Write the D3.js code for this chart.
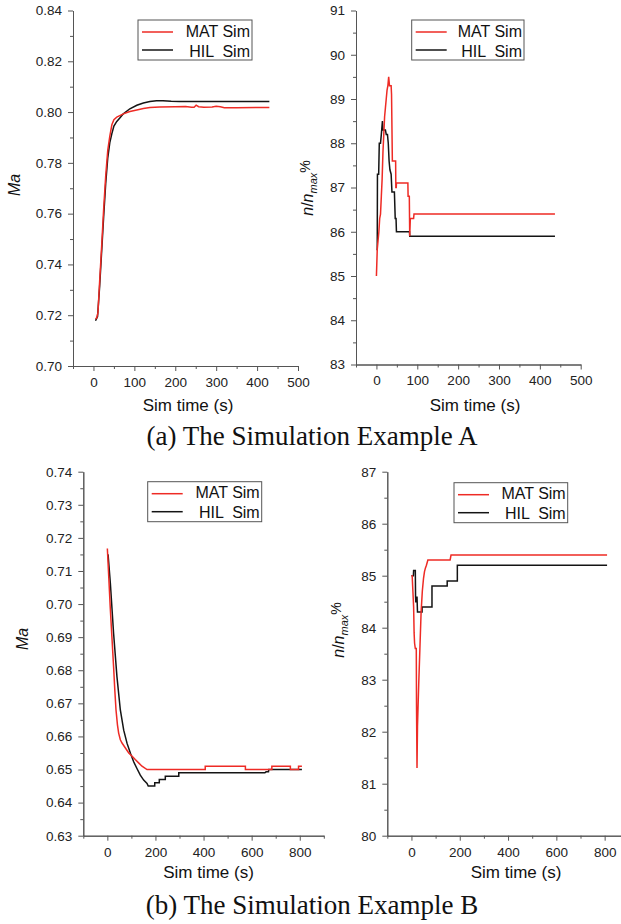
<!DOCTYPE html>
<html>
<head>
<meta charset="utf-8">
<script src="https://cdn.jsdelivr.net/npm/d3@7/dist/d3.min.js"></script>
<style>
  body { margin: 0; background: #fff; }
  svg { display: block; }
  .tick text { font-family: "Liberation Sans", Arial, sans-serif; font-size: 13.5px; fill: #222; }
  .axis path, .axis line { stroke: #555; }
</style>
</head>
<body>
<svg id="chart" width="621" height="924"></svg>
<script>
// series names
const seriesNames = ["MAT Sim", "HIL  Sim"];

// example A, Mach number [time, Ma]
const maA_mat = [[5,0.7185],[8,0.719],[11,0.721],[15,0.733],[20,0.747],[25,0.762],[30,0.775],[35,0.785],
  [40,0.7905],[45,0.795],[50,0.797],[57,0.798],[73,0.7993],[89,0.8002],[106,0.8008],[122,0.8014],
  [138,0.8018],[162,0.802],[200,0.8021],[225,0.8022],[240,0.8019],[246,0.8019],[251,0.8027],[257,0.8021],
  [270,0.8019],[290,0.802],[300,0.8023],[310,0.8021],[320,0.8017],[350,0.8017],[430,0.8018]];
const maA_hil = [[5,0.7178],[10,0.7195],[15,0.731],[20,0.745],[25,0.759],[30,0.772],[35,0.782],[40,0.788],
  [45,0.7915],[50,0.7945],[57,0.7963],[65,0.7978],[73,0.7993],[89,0.8013],[106,0.8027],[122,0.8036],
  [138,0.8042],[154,0.8045],[170,0.8045],[190,0.8043],[210,0.8042],[430,0.8042]];

// example A, speed n/nmax % [time, value]
const nA_mat = [[0,85.0],[2,85.6],[4,85.8],[6,86.0],[8,86.3],[10,86.4],[12,86.8],[14,87.2],[16,87.8],
  [18,88.2],[20,88.6],[22,88.8],[24,89.0],[26,89.2],[28,89.3],[30,89.5],[32,89.3],[36,89.3],[37,89.1],
  [39,87.6],[47,87.6],[47.5,87.0],[48.5,87.0],[49,87.1],[77,87.1],[77.5,86.8],[80.5,86.8],[81.5,85.9],
  [83,86.3],[91,86.3],[92,86.4],[437,86.4]];
const nA_hil = [[0,85.6],[2,85.6],[2.5,87.3],[5.5,87.3],[7,88.0],[10,88.0],[12,88.2],[14.7,88.5],[16,88.3],
  [22,88.3],[24,88.2],[27,88.2],[29,88.0],[31,87.6],[33,87.4],[36,87.3],[38,86.9],[44,86.9],[46,86.3],
  [48,86.3],[49,86.0],[81,86.0],[81.5,85.9],[437,85.9]];

// example B, Mach number
const maB_mat = [[0,0.7168],[6,0.708],[12,0.699],[19,0.690],[26,0.681],[31,0.674],[36,0.668],[42,0.6635],
  [47,0.661],[54,0.659],[61,0.658],[75,0.6565],[89,0.655],[103,0.654],[116,0.653],[130,0.652],[144,0.651],
  [165,0.650],[407,0.650],[407,0.651],[574,0.651],[574,0.650],[684,0.650],[684,0.651],[761,0.651],
  [761,0.650],[795,0.650],[795,0.651],[809,0.651]];
const maB_hil = [[3,0.715],[12.5,0.7063],[26,0.6911],[40,0.678],[54,0.668],[68,0.6619],[82,0.6579],
  [96,0.6549],[109,0.6524],[123,0.6503],[137,0.6483],[151,0.6468],[165,0.6458],[170,0.645],[197,0.645],
  [197,0.646],[216,0.646],[216,0.647],[241,0.647],[241,0.648],[297,0.648],[297,0.649],[655,0.649],
  [660,0.6493],[670,0.6493],[671,0.650],[809,0.650]];

// example B, speed n/nmax %
const nB_mat = [[0,85.0],[3,85.0],[6,84.7],[9,84.4],[11,83.9],[13,83.7],[16,83.6],[20,83.6],[21,82.5],
  [23,81.3],[25,82.1],[30,82.9],[35,83.6],[40,84.3],[45,84.7],[50,84.95],[54,85.08],[58,85.15],[62,85.2],
  [68,85.3],[160,85.3],[162,85.35],[164,85.4],[810,85.4]];
const nB_hil = [[0,85.0],[8,85.0],[9,85.1],[16,85.1],[17,84.6],[18,84.5],[21,84.5],[23,84.6],[25,84.3],
  [44,84.3],[44,84.4],[85,84.4],[85,84.8],[148,84.8],[148,84.9],[190,84.9],[190,85.2],[810,85.2]];

// axis ticks
const xTicksA = [0, 100, 200, 300, 400, 500];
const xMinorA = [-50, 50, 150, 250, 350, 450];
const xTicksB = [0, 200, 400, 600, 800];
const xMinorB = [-100, 100, 300, 500, 700, 900];
const yTicksMaA = [0.70, 0.72, 0.74, 0.76, 0.78, 0.80, 0.82, 0.84];
const yTicksNA = [83, 84, 85, 86, 87, 88, 89, 90, 91];
const yTicksMaB = [0.63, 0.64, 0.65, 0.66, 0.67, 0.68, 0.69, 0.70, 0.71, 0.72, 0.73, 0.74];
const yTicksNB = [80, 81, 82, 83, 84, 85, 86, 87];

const captions = ["(a) The Simulation Example A", "(b) The Simulation Example B"];

const RED = "#ee2b25", BLACK = "#141414";
const svg = d3.select("#chart");

function drawPanel(p) {
  const x = d3.scaleLinear().domain(p.xDomain).range([p.left, p.right]);
  const y = d3.scaleLinear().domain(p.yDomain).range([p.bottom, p.top]);
  const g = svg.append("g");

  // minor ticks between the majors
  const yMinor = d3.pairs(p.yTicks).map(d => (d[0] + d[1]) / 2);
  g.append("g").attr("class", "axis")
    .attr("transform", "translate(0," + p.bottom + ")")
    .call(d3.axisBottom(x).tickValues(p.xMinor).tickSize(3).tickSizeOuter(0).tickFormat(""));
  g.append("g").attr("class", "axis")
    .attr("transform", "translate(" + p.left + ",0)")
    .call(d3.axisLeft(y).tickValues(yMinor).tickSize(3).tickSizeOuter(0).tickFormat(""));

  // major ticks with labels
  g.append("g").attr("class", "axis")
    .attr("transform", "translate(0," + p.bottom + ")")
    .call(d3.axisBottom(x).tickValues(p.xTicks).tickSize(5).tickPadding(p.xPad).tickSizeOuter(0).tickFormat(d3.format("d")));
  g.append("g").attr("class", "axis")
    .attr("transform", "translate(" + p.left + ",0)")
    .call(d3.axisLeft(y).tickValues(p.yTicks).tickSize(5).tickPadding(6).tickSizeOuter(0).tickFormat(d3.format(p.yFmt)));

  // lines
  const line = d3.line().x(d => x(d[0])).y(d => y(d[1]));
  g.append("path").datum(p.hil).attr("d", line)
    .attr("fill", "none").attr("stroke", BLACK).attr("stroke-width", 1.5);
  g.append("path").datum(p.mat).attr("d", line)
    .attr("fill", "none").attr("stroke", RED).attr("stroke-width", 1.5);

  // x title
  g.append("text")
    .attr("x", p.xTitleX).attr("y", p.xTitleY)
    .attr("text-anchor", "middle")
    .style("font-family", "Liberation Sans, Arial, sans-serif")
    .style("font-size", "17px").style("fill", "#111")
    .text("Sim time (s)");

  // y title
  const yt = g.append("text")
    .attr("transform", "translate(" + p.yTitleX + "," + p.yTitleY + ") rotate(-90)")
    .attr("text-anchor", "middle")
    .style("font-family", "Liberation Sans, Arial, sans-serif")
    .style("font-size", "16px").style("fill", "#111");
  if (p.yTitle === "Ma") {
    yt.style("font-style", "italic").text("Ma");
  } else {
    yt.append("tspan").style("font-style", "italic").text("n");
    yt.append("tspan").text("/");
    yt.append("tspan").style("font-style", "italic").text("n");
    yt.append("tspan").style("font-style", "italic").style("font-size", "11px").attr("dy", 4).text("max");
    yt.append("tspan").style("font-size", "14px").attr("dy", -7).text("%");
  }

  // legend
  const lg = g.append("g").attr("transform", "translate(" + p.legX + "," + p.legY + ")");
  lg.append("rect").attr("width", p.legW).attr("height", 40)
    .attr("fill", "#fff").attr("stroke", "#555").attr("stroke-width", 1);
  [RED, BLACK].forEach((c, i) => {
    lg.append("line").attr("x1", 4).attr("x2", 35).attr("y1", 12 + i * 18).attr("y2", 12 + i * 18)
      .attr("stroke", c).attr("stroke-width", 1.5);
    lg.append("text").attr("x", p.legW - 2).attr("y", 16.5 + i * 20)
      .attr("text-anchor", "end").attr("xml:space", "preserve").style("white-space", "pre")
      .style("font-family", "Liberation Sans, Arial, sans-serif")
      .style("font-size", "16px").style("fill", "#111")
      .text(seriesNames[i]);
  });
}

drawPanel({ left: 73, right: 298, top: 10.5, bottom: 366, xDomain: [-50, 500], yDomain: [0.70, 0.84],
  xTicks: xTicksA, xMinor: xMinorA, yTicks: yTicksMaA, yFmt: ".2f", xPad: 6,
  mat: maA_mat, hil: maA_hil, yTitle: "Ma", yTitleX: 20, yTitleY: 185, xTitleX: 188, xTitleY: 411,
  legX: 138, legY: 20, legW: 114 });
drawPanel({ left: 356, right: 580.7, top: 10.5, bottom: 364.5, xDomain: [-50, 500], yDomain: [83, 91],
  xTicks: xTicksA, xMinor: xMinorA, yTicks: yTicksNA, yFmt: "d", xPad: 6,
  mat: nA_mat, hil: nA_hil, yTitle: "n", yTitleX: 313, yTitleY: 188, xTitleX: 475, xTitleY: 411,
  legX: 411.7, legY: 20, legW: 112.3 });
drawPanel({ left: 83.3, right: 323.8, top: 471.7, bottom: 835.7, xDomain: [-100, 900], yDomain: [0.63, 0.74],
  xTicks: xTicksB, xMinor: xMinorB, yTicks: yTicksMaB, yFmt: ".2f", xPad: 7,
  mat: maB_mat, hil: maB_hil, yTitle: "Ma", yTitleX: 28, yTitleY: 639, xTitleX: 208.5, xTitleY: 878,
  legX: 147.7, legY: 481.7, legW: 114 });
drawPanel({ left: 387.3, right: 628.8, top: 471.7, bottom: 835.7, xDomain: [-100, 900], yDomain: [80, 87],
  xTicks: xTicksB, xMinor: xMinorB, yTicks: yTicksNB, yFmt: "d", xPad: 7,
  mat: nB_mat, hil: nB_hil, yTitle: "n", yTitleX: 344, yTitleY: 630, xTitleX: 516, xTitleY: 878,
  legX: 454, legY: 482.7, legW: 113.7 });

// captions
svg.selectAll("text.caption").data(captions).enter().append("text")
  .attr("class", "caption")
  .attr("x", 312).attr("y", (d, i) => i === 0 ? 445 : 914)
  .attr("text-anchor", "middle")
  .style("font-family", "Liberation Serif, Times New Roman, serif")
  .style("font-size", "27px").style("fill", "#111")
  .text(d => d);
</script>
</body>
</html>
